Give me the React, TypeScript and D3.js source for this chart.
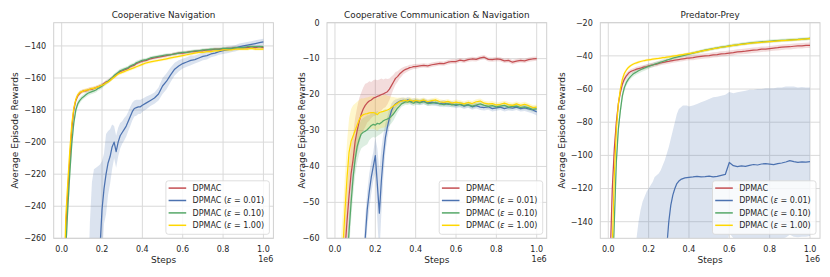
import React, { useEffect, useRef } from 'react';
import * as d3 from 'd3';

// training steps (in units of 1e6)
const steps = [
  0.01, 0.02, 0.03, 0.04, 0.05, 0.06, 0.07, 0.08, 0.09, 0.10,
  0.11, 0.12, 0.13, 0.14, 0.15, 0.16, 0.17, 0.18, 0.19, 0.20,
  0.21, 0.22, 0.23, 0.24, 0.25, 0.26, 0.27, 0.28, 0.29, 0.30,
  0.31, 0.32, 0.33, 0.34, 0.35, 0.36, 0.37, 0.38, 0.39, 0.40,
  0.42, 0.44, 0.46, 0.48, 0.50, 0.52, 0.54, 0.56, 0.58, 0.60,
  0.62, 0.64, 0.66, 0.68, 0.70, 0.72, 0.74, 0.76, 0.78, 0.80,
  0.82, 0.84, 0.86, 0.88, 0.90, 0.92, 0.94, 0.96, 0.98, 1.00,
];

const seriesNames = ['DPMAC', 'DPMAC', 'DPMAC', 'DPMAC'];
const seriesEps = ['', '0.01', '0.10', '1.00'];
const seriesColors = ['#c44e52', '#4c72b0', '#55a868', '#ffd700'];
const titles = ['Cooperative Navigation', 'Cooperative Communication & Navigation', 'Predator-Prey'];
const xTicks = [0, 0.2, 0.4, 0.6, 0.8, 1.0];
const navTicks = [-260, -240, -220, -200, -180, -160, -140];
const commTicks = [-60, -50, -40, -30, -20, -10, 0];
const ppTicks = [-140, -120, -100, -80, -60, -40, -20];

// Cooperative Navigation
const navDpmac = [
  -320, -255, -232, -212, -192, -180, -174, -171, -169.5, -168.5,
  -168, -168, -167.5, -167, -167, -166.5, -166, -165.5, -165, -164.5,
  -163.5, -162.5, -162, -161, -160, -159, -158, -157, -156, -155.5,
  -155, -154.5, -154, -153, -152.5, -152, -151, -150.5, -150, -149.5,
  -149, -148, -147.5, -147, -146.5, -146, -145.5, -145, -144.5, -144.5,
  -144, -143.5, -143.5, -143, -143, -142.5, -142.5, -142, -142, -142,
  -141.5, -141.5, -141, -141, -141, -141, -140.5, -141, -140.5, -141,
];
const navDpmacCi = [
  8, 8, 7, 6, 5, 3, 2, 1.5, 1.5, 1.2,
  1.2, 1.2, 1.2, 1.2, 1.2, 1.2, 1.2, 1.2, 1.2, 1.2,
  1.2, 1.2, 1.2, 1.2, 1.2, 1.2, 1.2, 1.2, 1.2, 1.2,
  1, 1, 1, 1, 1, 1, 1, 1, 1, 1,
  1, 1, 1, 1, 1, 1, 1, 1, 1, 1,
  1, 1, 1, 1, 1, 1, 1, 1, 1, 1,
  1, 1, 1, 1, 1, 1, 1, 1, 1, 1,
];
const navEps001 = [
  -420, -420, -420, -420, -420, -420, -420, -420, -420, -410,
  -390, -370, -350, -330, -315, -302, -292, -282, -266, -242,
  -229, -220, -213, -209, -203, -200, -206, -200, -196, -194,
  -192, -190, -187, -184, -181, -179, -178.5, -178, -178, -177,
  -175.5, -174, -172.5, -170, -165, -162, -158, -154.5, -152.5, -151,
  -150, -149, -148.5, -147.5, -146.5, -146, -145, -144.5, -143.5, -143,
  -142.5, -142, -141.5, -140.5, -140, -139.5, -139, -138.5, -138, -137.5,
];
const navEps001Ci = [
  0, 0, 0, 0, 0, 0, 0, 0, 0, 0,
  10, 30, 60, 80, 90, 85, 76, 67, 52, 30,
  22, 25, 20, 17, 14, 10, 10, 9, 8, 7,
  7, 6.5, 6, 6, 5.5, 5, 5, 4.5, 4.5, 4,
  4, 3.5, 3.5, 4, 5, 5, 4.5, 4, 3.5, 3,
  3, 3, 2.5, 2.5, 2.5, 2.5, 2, 2, 2, 2,
  2, 2, 2, 2, 2, 2, 2, 2, 2, 2,
];
const navEps010 = [
  -330, -268, -242, -220, -201, -188, -180, -176, -174, -172.5,
  -171.5, -170.5, -169.5, -169, -168.5, -168, -167.5, -166.5, -166, -165,
  -164, -163, -162, -161, -160, -158.5, -157.5, -156.5, -155.5, -155,
  -154.5, -154, -153.5, -152.5, -152, -151.5, -150.5, -150, -149.5, -149,
  -148.5, -147.5, -147, -146.5, -146, -145.5, -145.5, -145, -144.5, -144,
  -144, -143.5, -143, -143, -142.5, -142.5, -142, -142, -142, -141.5,
  -141.5, -141.5, -141, -141, -141, -140.5, -140.5, -140.5, -140.5, -140.5,
];
const navEps010Ci = [
  8, 8, 8, 7, 6, 4, 2.5, 2, 1.8, 1.6,
  1.5, 1.5, 1.5, 1.5, 1.5, 1.5, 1.5, 1.5, 1.5, 1.5,
  1.3, 1.3, 1.3, 1.3, 1.3, 1.3, 1.3, 1.3, 1.3, 1.3,
  1.2, 1.2, 1.2, 1.2, 1.2, 1.2, 1.2, 1.2, 1.2, 1.2,
  1, 1, 1, 1, 1, 1, 1, 1, 1, 1,
  1, 1, 1, 1, 1, 1, 1, 1, 1, 1,
  1, 1, 1, 1, 1, 1, 1, 1, 1, 1,
];
const navEps100 = [
  -300, -248, -226, -206, -189, -179, -173.5, -170.5, -169, -168.5,
  -168, -167.5, -167.5, -167, -166.5, -166.5, -166, -165.5, -165, -164.5,
  -164, -163, -162.5, -161.5, -160.5, -159.5, -158.5, -157.5, -157, -156.5,
  -156, -155.5, -155, -154.5, -154, -153.5, -153, -152.5, -152, -151.5,
  -150.5, -150, -149.5, -149, -148.5, -148, -147.5, -147, -146.5, -146,
  -145.5, -145, -144.5, -144, -144, -143.5, -143.5, -143, -143, -142.5,
  -142.5, -142.5, -142, -142, -142, -142, -141.5, -142, -142, -142,
];
const navEps100Ci = [
  8, 8, 7, 6, 4, 2.5, 2, 1.5, 1.2, 1.2,
  1.2, 1.2, 1.2, 1.2, 1.2, 1.2, 1.2, 1.2, 1.2, 1.2,
  1, 1, 1, 1, 1, 1, 1, 1, 1, 1,
  1, 1, 1, 1, 1, 1, 1, 1, 1, 1,
  0.9, 0.9, 0.9, 0.9, 0.9, 0.9, 0.9, 0.9, 0.9, 0.9,
  0.9, 0.9, 0.9, 0.9, 0.9, 0.9, 0.9, 0.9, 0.9, 0.9,
  0.9, 0.9, 0.9, 0.9, 0.9, 0.9, 0.9, 0.9, 0.9, 0.9,
];

// Cooperative Communication & Navigation
const commDpmac = [
  -90, -85, -80, -72, -63, -55, -48, -42, -38, -33,
  -30, -27.5, -25.5, -24, -23, -22.3, -21.8, -21.5, -21, -20.8,
  -20.5, -20.3, -20, -19.8, -19.5, -19.2, -18.5, -17.5, -16.5, -15.5,
  -15, -14.3, -13.8, -13.3, -13, -12.8, -12.5, -12.4, -12.2, -12.2,
  -12, -11.9, -12, -11.7, -11.5, -11.3, -11.4, -11, -10.8, -10.8,
  -10.4, -10.6, -10.3, -10.1, -10.2, -9.8, -9.6, -10.2, -10.3, -10.1,
  -10.2, -10.6, -10.5, -11, -10.7, -10.5, -10.6, -10.3, -10.1, -10,
];
const commDpmacCi = [
  8, 8, 8, 8, 8, 9, 9, 8, 7, 6.5,
  6.5, 6.5, 6, 6, 6, 5.5, 5.5, 5, 5, 5,
  4.5, 4.5, 4.5, 4, 4, 3.5, 3, 2.5, 2, 1.8,
  1.5, 1.3, 1.2, 1, 0.9, 0.8, 0.8, 0.7, 0.7, 0.7,
  0.6, 0.6, 0.6, 0.6, 0.6, 0.6, 0.6, 0.6, 0.6, 0.6,
  0.6, 0.6, 0.6, 0.6, 0.6, 0.6, 0.6, 0.6, 0.6, 0.6,
  0.6, 0.6, 0.6, 0.6, 0.6, 0.6, 0.6, 0.6, 0.6, 0.6,
];
const commEps001 = [
  -100, -100, -100, -100, -100, -100, -100, -100, -100, -100,
  -95, -90, -80, -70, -60, -52, -47, -43, -40, -37,
  -45, -53, -44, -37, -32, -29, -26.5, -24.5, -23.2, -22.6,
  -22.2, -21.9, -21.7, -21.6, -21.8, -21.5, -21.7, -22, -21.8, -21.9,
  -22.1, -21.8, -22.3, -22.1, -22.4, -22.5, -22.3, -22.7, -22.6, -23,
  -22.7, -23.2, -22.9, -23.4, -23.1, -23.5, -23.6, -23.4, -23.9, -23.7,
  -23.5, -23.9, -23.6, -23.8, -23.5, -23.9, -23.7, -24, -24.3, -24.8,
];
const commEps001Ci = [
  0, 0, 0, 0, 0, 0, 0, 0, 0, 0,
  3, 4, 6, 6, 6, 5, 5, 4.5, 4, 5,
  10, 12, 9, 6, 4, 3, 2.5, 2, 1.5, 1.2,
  1, 0.9, 0.8, 0.8, 0.8, 0.8, 0.8, 0.8, 0.8, 0.8,
  0.8, 0.8, 0.8, 0.8, 0.8, 0.8, 0.8, 0.8, 0.8, 0.8,
  0.8, 0.8, 0.8, 0.8, 0.8, 0.8, 0.8, 0.8, 0.8, 0.8,
  0.8, 0.8, 0.8, 0.8, 0.8, 0.8, 0.9, 0.9, 1, 1,
];
const commEps010 = [
  -95, -90, -85, -80, -74, -66, -58, -50, -43, -38,
  -34.5, -32.5, -31, -30.5, -30.2, -29.8, -29.2, -28.6, -28.3, -28.5,
  -28, -28.2, -27.8, -27.3, -27, -26.8, -26.5, -26, -25.4, -24.6,
  -23.8, -23.2, -22.6, -22.3, -22, -22.1, -21.9, -22.2, -22.4, -22,
  -22.3, -22, -22.5, -22.4, -22.2, -22.6, -22.8, -22.5, -22.9, -22.7,
  -22.8, -23, -22.8, -23.2, -22.9, -22.6, -23, -23.3, -23.1, -23.4,
  -23.2, -23, -23.5, -23.3, -23.2, -23.6, -23.4, -23.7, -24.1, -24,
];
const commEps010Ci = [
  5, 5, 5, 5, 5, 5, 5, 5, 5, 4.5,
  4.5, 4, 4, 4, 4, 4, 3.5, 3.5, 3.5, 3.5,
  3.5, 3, 3, 3, 3, 2.5, 2.2, 2, 1.8, 1.5,
  1.2, 1, 0.8, 0.8, 0.8, 0.8, 0.8, 0.8, 0.8, 0.8,
  0.7, 0.7, 0.7, 0.7, 0.7, 0.7, 0.7, 0.7, 0.7, 0.7,
  0.7, 0.7, 0.7, 0.7, 0.7, 0.7, 0.7, 0.7, 0.7, 0.7,
  0.7, 0.7, 0.7, 0.7, 0.7, 0.7, 0.7, 0.7, 0.7, 0.7,
];
const commEps100 = [
  -80, -75, -70, -62, -52, -43, -36, -33, -31.5, -30,
  -28.5, -27, -26, -25.6, -25.4, -25.3, -25.1, -25, -25, -25.2,
  -25.6, -25, -24.8, -24.7, -24.5, -24.3, -24, -23.6, -23.2, -22.8,
  -22.4, -22, -21.8, -21.7, -21.6, -21.8, -21.5, -21.7, -21.9, -21.6,
  -21.8, -21.5, -22, -21.7, -21.5, -22, -22.2, -21.9, -22.4, -22.1,
  -22.3, -22.6, -22.2, -22.5, -22, -21.8, -22.4, -22.6, -22.5, -22.9,
  -22.7, -22.4, -22.8, -23, -22.6, -23, -22.7, -23.1, -23.6, -23.5,
];
const commEps100Ci = [
  10, 10, 10, 10, 10, 10, 9.5, 9, 8.5, 7.5,
  6.5, 5.5, 5, 4.5, 4.5, 4.5, 4.5, 4.5, 4.5, 4.5,
  4.5, 4.5, 4.5, 4.5, 4.5, 4, 3.5, 3, 2.5, 2,
  1.5, 1.2, 1, 0.8, 0.8, 0.8, 0.8, 0.8, 0.8, 0.8,
  0.7, 0.7, 0.7, 0.7, 0.7, 0.7, 0.7, 0.7, 0.7, 0.7,
  0.7, 0.7, 0.7, 0.7, 0.7, 0.7, 0.7, 0.7, 0.7, 0.7,
  0.7, 0.7, 0.7, 0.7, 0.7, 0.7, 0.7, 0.7, 0.7, 0.7,
];

// Predator-Prey
const ppDpmac = [
  -160, -120, -96, -80, -69, -62, -57, -54, -52, -50.5,
  -49.5, -49, -48.5, -48, -47.7, -47.4, -47, -46.7, -46.4, -46,
  -45.7, -45.5, -45.2, -45, -44.6, -44.3, -44, -43.8, -43.5, -43.3,
  -43, -42.8, -42.6, -42.4, -42.2, -42, -41.8, -41.6, -41.4, -41.3,
  -41, -40.6, -40.3, -40, -39.8, -39.4, -39.2, -38.8, -38.6, -38.3,
  -38, -37.6, -37.4, -37.2, -36.9, -36.6, -36.4, -36, -35.9, -35.6,
  -35.3, -35.1, -34.8, -34.6, -34.5, -34.2, -34, -33.9, -33.7, -33.6,
];
const ppDpmacCi = [
  4, 4, 4, 3.5, 3, 2.5, 2.2, 2, 1.8, 1.6,
  1.4, 1.4, 1.4, 1.4, 1.4, 1.4, 1.4, 1.4, 1.4, 1.4,
  1.4, 1.4, 1.4, 1.4, 1.4, 1.4, 1.4, 1.4, 1.4, 1.4,
  1.4, 1.4, 1.4, 1.4, 1.4, 1.4, 1.4, 1.4, 1.4, 1.4,
  1.6, 1.6, 1.6, 1.6, 1.6, 1.6, 1.6, 1.6, 1.6, 1.6,
  1.6, 1.6, 1.6, 1.6, 1.6, 1.6, 1.6, 1.6, 1.6, 1.6,
  1.6, 1.6, 1.6, 1.6, 1.6, 1.6, 1.6, 1.6, 1.6, 1.6,
];
const ppEps001 = [
  -400, -400, -400, -400, -400, -400, -400, -400, -400, -400,
  -400, -400, -250, -240, -235, -230, -225, -220, -215, -210,
  -205, -200, -195, -190, -185, -180, -172, -165, -155, -140,
  -130, -124, -120, -117, -115.5, -114.5, -114, -113.6, -113.4, -113.2,
  -113, -112.6, -113, -112.8, -112.5, -113, -112.6, -112, -111.5, -104.3,
  -106.2, -106.8, -106.4, -106.6, -106, -105.5, -105.8, -105.2, -105, -105.3,
  -105.6, -105, -104.6, -104, -103.2, -103.8, -104.2, -103.9, -104, -103.8,
];
const ppEps001Ci = [
  0, 0, 0, 0, 0, 0, 0, 0, 0, 0,
  0, 0, 90, 90, 95, 97, 97, 95, 93, 90,
  87, 84, 82, 78, 74, 71, 66, 62, 56, 45,
  40, 39, 40, 42, 43.5, 43.5, 44, 43.6, 43.4, 42.7,
  43, 43.6, 45, 45.8, 46.5, 48, 48, 48, 48, 42.5,
  43.7, 44.8, 44.9, 45.6, 45.5, 45, 45.8, 45.2, 45.5, 45.8,
  46.1, 46, 45.6, 45.5, 44.7, 45.3, 45.2, 45.1, 45, 44.8,
];
const ppEps010 = [
  -220, -175, -140, -104, -84, -73, -64, -59, -56, -54,
  -52.5, -51.3, -50.4, -49.7, -49, -48.4, -47.8, -47.3, -46.8, -46.3,
  -45.9, -45.5, -45, -44.6, -44.2, -43.8, -43.4, -43, -42.6, -42.2,
  -41.8, -41.4, -41, -40.7, -40.4, -40.1, -39.8, -39.5, -39.2, -39,
  -38.4, -37.8, -37.2, -36.6, -36.1, -35.6, -35.2, -34.7, -34.4, -34,
  -33.6, -33.3, -32.9, -32.6, -32.3, -32, -31.8, -31.6, -31.4, -31.2,
  -31, -30.8, -30.7, -30.6, -30.4, -30.2, -30.1, -29.9, -29.7, -29.5,
];
const ppEps010Ci = [
  4, 4, 4, 4, 3.5, 3, 2.5, 2.2, 2, 1.8,
  1.6, 1.6, 1.6, 1.6, 1.6, 1.6, 1.6, 1.6, 1.6, 1.6,
  1.3, 1.3, 1.3, 1.3, 1.3, 1.3, 1.3, 1.3, 1.3, 1.3,
  1, 1, 1, 1, 1, 1, 1, 1, 1, 1,
  1, 1, 1, 1, 1, 1, 1, 1, 1, 1,
  1, 1, 1, 1, 1, 1, 1, 1, 1, 1,
  1, 1, 1, 1, 1, 1, 1, 1, 1, 1,
];
const ppEps100 = [
  -200, -155, -112, -85, -69, -60, -54, -50.5, -48.5, -47,
  -46, -45.2, -44.6, -44.2, -43.8, -43.4, -43.1, -42.8, -42.6, -42.4,
  -42.2, -42, -41.8, -41.6, -41.5, -41.3, -41.1, -41, -40.8, -40.6,
  -40.4, -40.2, -40, -39.8, -39.6, -39.4, -39.2, -39, -38.8, -38.6,
  -38.2, -37.7, -37.2, -36.7, -36.2, -35.7, -35.3, -34.8, -34.5, -34.1,
  -33.7, -33.4, -33, -32.7, -32.5, -32.2, -32, -31.8, -31.6, -31.4,
  -31.2, -31, -30.8, -30.7, -30.5, -30.3, -30.2, -30, -29.8, -29.6,
];
const ppEps100Ci = [
  3, 3, 3, 3, 2.5, 2, 1.5, 1.2, 1, 1,
  0.8, 0.8, 0.8, 0.8, 0.8, 0.8, 0.8, 0.8, 0.8, 0.8,
  0.8, 0.8, 0.8, 0.8, 0.8, 0.8, 0.8, 0.8, 0.8, 0.8,
  0.8, 0.8, 0.8, 0.8, 0.8, 0.8, 0.8, 0.8, 0.8, 0.8,
  0.8, 0.8, 0.8, 0.8, 0.8, 0.8, 0.8, 0.8, 0.8, 0.8,
  0.8, 0.8, 0.8, 0.8, 0.8, 0.8, 0.8, 0.8, 0.8, 0.8,
  0.8, 0.8, 0.8, 0.8, 0.8, 0.8, 0.8, 0.8, 0.8, 0.8,
];

const panels = [
  {
    title: titles[0], yDomain: [-260, -125.5], yTicks: navTicks,
    means: [navDpmac, navEps001, navEps010, navEps100],
    cis: [navDpmacCi, navEps001Ci, navEps010Ci, navEps100Ci],
  },
  {
    title: titles[1], yDomain: [-60, 0], yTicks: commTicks,
    means: [commDpmac, commEps001, commEps010, commEps100],
    cis: [commDpmacCi, commEps001Ci, commEps010Ci, commEps100Ci],
  },
  {
    title: titles[2], yDomain: [-150, -20], yTicks: ppTicks,
    means: [ppDpmac, ppEps001, ppEps010, ppEps100],
    cis: [ppDpmacCi, ppEps001Ci, ppEps010Ci, ppEps100Ci],
  },
];

const WIDTH = 830;
const HEIGHT = 277;
const AX_TOP = 22.7;
const AX_BOTTOM = 238.3;
const AX_W = 219.7;
const axLefts = [53.7, 327, 600.3];
const ylabelGaps = [35.7, 22, 35.3];
const FONT = '"DejaVu Sans", sans-serif';
const TEXT = '#262626';
const GRID = '#dadada';

export default function App() {
  const ref = useRef<SVGSVGElement>(null);

  useEffect(() => {
    const svg = d3.select(ref.current);
    svg.selectAll('*').remove();
    svg.attr('width', WIDTH).attr('height', HEIGHT).style('font-family', FONT);
    svg.append('rect').attr('width', WIDTH).attr('height', HEIGHT).attr('fill', '#fff');

    const fmtY = (v: number) => String(v).replace('-', '\u2212');

    panels.forEach((p, pi) => {
      const left = axLefts[pi];
      const right = left + AX_W;
      const x = d3.scaleLinear().domain([-0.0395, 1.0495]).range([left, right]);
      const y = d3.scaleLinear().domain(p.yDomain).range([AX_BOTTOM, AX_TOP]);
      const g = svg.append('g');

      const clipId = `clip-${pi}`;
      g.append('clipPath').attr('id', clipId)
        .append('rect')
        .attr('x', left).attr('y', AX_TOP)
        .attr('width', AX_W).attr('height', AX_BOTTOM - AX_TOP);

      // grid
      g.selectAll('.vgrid').data(xTicks).enter().append('line')
        .attr('x1', d => x(d)).attr('x2', d => x(d))
        .attr('y1', AX_TOP).attr('y2', AX_BOTTOM)
        .attr('stroke', GRID).attr('stroke-width', 1);
      g.selectAll('.hgrid').data(p.yTicks).enter().append('line')
        .attr('x1', left).attr('x2', right)
        .attr('y1', d => y(d)).attr('y2', d => y(d))
        .attr('stroke', GRID).attr('stroke-width', 1);

      const plot = g.append('g').attr('clip-path', `url(#${clipId})`);

      p.means.forEach((mean, si) => {
        const ci = p.cis[si];
        const area = d3.area<number>()
          .x((_, i) => x(steps[i]))
          .y0((d, i) => y(d - ci[i]))
          .y1((d, i) => y(d + ci[i]));
        plot.append('path').datum(mean)
          .attr('d', area)
          .attr('fill', seriesColors[si])
          .attr('fill-opacity', 0.2);
      });

      p.means.forEach((mean, si) => {
        const line = d3.line<number>()
          .x((_, i) => x(steps[i]))
          .y(d => y(d));
        plot.append('path').datum(mean)
          .attr('d', line)
          .attr('fill', 'none')
          .attr('stroke', seriesColors[si])
          .attr('stroke-width', 1.25)
          .attr('stroke-linejoin', 'round');
      });

      // spines
      g.append('rect')
        .attr('x', left).attr('y', AX_TOP)
        .attr('width', AX_W).attr('height', AX_BOTTOM - AX_TOP)
        .attr('fill', 'none').attr('stroke', '#d0d0d0').attr('stroke-width', 1);

      // tick labels
      g.selectAll('.xt').data(xTicks).enter().append('text')
        .attr('x', d => x(d)).attr('y', 252.3)
        .attr('text-anchor', 'middle')
        .attr('font-size', 8).attr('fill', TEXT)
        .text(d => d3.format('.1f')(d));
      g.selectAll('.yt').data(p.yTicks).enter().append('text')
        .attr('x', left - 7.5).attr('y', d => y(d))
        .attr('dy', '0.35em')
        .attr('text-anchor', 'end')
        .attr('font-size', 8).attr('fill', TEXT)
        .text(d => fmtY(d));

      // labels
      g.append('text')
        .attr('x', (left + right) / 2).attr('y', 18)
        .attr('text-anchor', 'middle').attr('font-size', 8.8).attr('fill', TEXT)
        .text(p.title);
      g.append('text')
        .attr('x', (left + right) / 2).attr('y', 263)
        .attr('text-anchor', 'middle').attr('font-size', 9).attr('fill', TEXT)
        .text('Steps');
      g.append('text')
        .attr('x', right).attr('y', 261.7)
        .attr('text-anchor', 'end').attr('font-size', 8).attr('fill', TEXT)
        .text('1e6');
      g.append('text')
        .attr('transform', `translate(${left - ylabelGaps[pi]},${(AX_TOP + AX_BOTTOM) / 2}) rotate(-90)`)
        .attr('text-anchor', 'middle').attr('font-size', 9).attr('fill', TEXT)
        .text('Average Episode Rewards');

      // legend
      const lw = 103.5;
      const lh = 53.5;
      const lx = right - 4 - lw;
      const ly = AX_BOTTOM - 4 - lh;
      const lg = g.append('g');
      lg.append('rect')
        .attr('x', lx).attr('y', ly).attr('width', lw).attr('height', lh)
        .attr('rx', 2.5)
        .attr('fill', '#fff').attr('fill-opacity', 0.8)
        .attr('stroke', '#d6d6d6').attr('stroke-width', 0.8);
      seriesNames.forEach((name, si) => {
        const cy = ly + 7.3 + si * 12.4;
        lg.append('line')
          .attr('x1', lx + 2.7).attr('x2', lx + 20.3)
          .attr('y1', cy).attr('y2', cy)
          .attr('stroke', seriesColors[si]).attr('stroke-width', 1.5);
        const t = lg.append('text')
          .attr('x', lx + 26.7).attr('y', cy + 2.9)
          .attr('font-size', 8).attr('fill', TEXT);
        if (seriesEps[si]) {
          t.append('tspan').text(`${name} (`);
          t.append('tspan').attr('font-style', 'italic').text('\u03b5');
          t.append('tspan').text(` = ${seriesEps[si]})`);
        } else {
          t.text(name);
        }
      });
    });
  }, []);

  return <svg ref={ref} style={{ position: 'absolute', left: 0, top: 0 }} />;
}
